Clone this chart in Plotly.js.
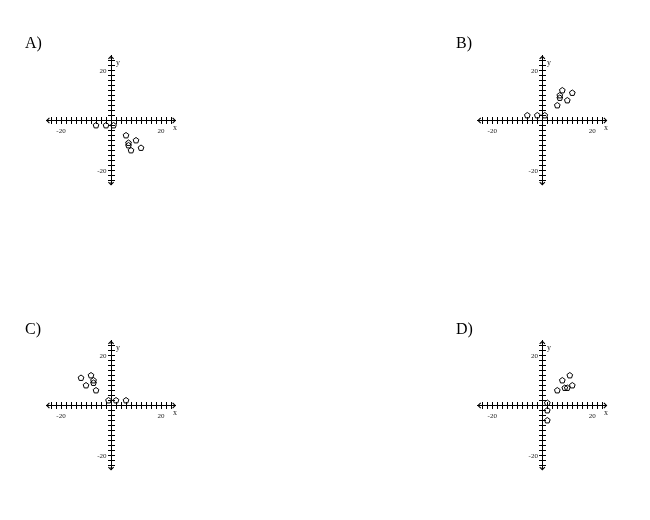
<!DOCTYPE html>
<html>
<head>
<meta charset="utf-8">
<script src="https://cdn.plot.ly/plotly-3.0.1.min.js"></script>
<style>
  body { margin: 0; background: #fff; }
  #chart { width: 650px; height: 520px; will-change: transform; }
</style>
</head>
<body>
<div id="chart"></div>
<script>
// panel labels
var panelNames = ['A)', 'B)', 'C)', 'D)'];

// point values
var aX = [-6, -2, 1, 6, 7, 7, 8, 10, 12];
var aY = [-2, -2, -2, -6, -9, -10, -12, -8, -11];

var bX = [-6, -2, 1, 6, 7, 7, 8, 10, 12];
var bY = [2, 2, 2, 6, 9, 10, 12, 8, 11];

var cX = [6, 2, -1, -6, -7, -7, -8, -10, -12];
var cY = [2, 2, 2, 6, 9, 10, 12, 8, 11];

var dX = [2, 2, 2, 6, 9, 10, 12, 8, 11];
var dY = [-6, -2, 1, 6, 7, 7, 8, 10, 12];

// ticks every 2, only +-20 labelled
var tickVals = [-24, -22, -20, -18, -16, -14, -12, -10, -8, -6, -4, -2, 0,
                2, 4, 6, 8, 10, 12, 14, 16, 18, 20, 22, 24];
var tickText = ['', '', '-20', '', '', '', '', '', '', '', '', '', '',
                '', '', '', '', '', '', '', '', '', '20', '', ''];

var xsAll = [aX, bX, cX, dX];
var ysAll = [aY, bY, cY, dY];

// layout of the four small graphs on the page
var xDomains = [[0.0708, 0.2708], [0.7343, 0.9343], [0.0708, 0.2708], [0.7343, 0.9343]];
var yDomains = [[0.6433, 0.8933], [0.6433, 0.8933], [0.0952, 0.3452], [0.0952, 0.3452]];
var labelPos = [[0.036, 0.918], [0.699, 0.918], [0.036, 0.368], [0.699, 0.368]];
var R = 26;

var serif = 'Liberation Serif, Times New Roman, serif';

var data = [];
var layout = {
    width: 650,
    height: 520,
    margin: { l: 0, r: 0, t: 0, b: 0 },
    paper_bgcolor: 'white',
    plot_bgcolor: 'rgba(0,0,0,0)',
    showlegend: false,
    annotations: [],
    font: { family: serif, color: 'black' }
};

for (var i = 0; i < 4; i++) {
    var n = i + 1;
    var o = i + 5;
    var xs = n === 1 ? '' : String(n);
    var midY = (yDomains[i][0] + yDomains[i][1]) / 2;
    var midX = (xDomains[i][0] + xDomains[i][1]) / 2;

    data.push({
        x: xsAll[i],
        y: ysAll[i],
        xaxis: 'x' + xs,
        yaxis: 'y' + xs,
        mode: 'markers',
        type: 'scatter',
        hoverinfo: 'x+y',
        marker: { symbol: 'pentagon-open', size: 6, color: 'black', line: { width: 1, color: 'black' } }
    });
    // empty trace so the overlay axes (ticks on the other side) get drawn
    data.push({ x: [], y: [], xaxis: 'x' + o, yaxis: 'y' + o, type: 'scatter', mode: 'markers', hoverinfo: 'skip' });

    var baseX = {
        domain: xDomains[i], range: [-R, R], anchor: 'free', position: midY,
        showgrid: false, zeroline: false, showline: true, linecolor: 'black', linewidth: 1,
        tickmode: 'array', tickvals: tickVals, ticktext: tickText,
        ticks: 'outside', ticklen: 3, tickwidth: 1, tickcolor: 'black',
        tickfont: { family: serif, size: 7, color: '#222' }, fixedrange: true
    };
    var baseY = {
        domain: yDomains[i], range: [-R, R], anchor: 'free', position: midX,
        showgrid: false, zeroline: false, showline: true, linecolor: 'black', linewidth: 1,
        tickmode: 'array', tickvals: tickVals, ticktext: tickText,
        ticks: 'outside', ticklen: 3, tickwidth: 1, tickcolor: 'black',
        tickfont: { family: serif, size: 7, color: '#222' }, fixedrange: true
    };
    var overX = {
        overlaying: 'x' + xs, range: [-R, R], anchor: 'free', position: midY,
        showgrid: false, zeroline: false, showline: false,
        tickmode: 'array', tickvals: tickVals, showticklabels: false,
        ticks: 'inside', ticklen: 3, tickwidth: 1, tickcolor: 'black', fixedrange: true
    };
    var overY = {
        overlaying: 'y' + xs, range: [-R, R], anchor: 'free', position: midX,
        showgrid: false, zeroline: false, showline: false,
        tickmode: 'array', tickvals: tickVals, showticklabels: false,
        ticks: 'inside', ticklen: 3, tickwidth: 1, tickcolor: 'black', fixedrange: true
    };
    layout['xaxis' + xs] = baseX;
    layout['yaxis' + xs] = baseY;
    layout['xaxis' + o] = overX;
    layout['yaxis' + o] = overY;

    var xr = 'x' + xs, yr = 'y' + xs;
    // arrow heads at the four ends
    var ends = [[R, 0, R - 2, 0], [-R, 0, -R + 2, 0], [0, R, 0, R - 2], [0, -R, 0, -R + 2]];
    ends.forEach(function (e) {
        layout.annotations.push({
            xref: xr, yref: yr, axref: xr, ayref: yr,
            x: e[0], y: e[1], ax: e[2], ay: e[3], text: '',
            showarrow: true, arrowhead: 4, arrowsize: 1, arrowwidth: 1, arrowcolor: 'black'
        });
    });
    // axis names
    layout.annotations.push({
        xref: xr, yref: yr, x: 25.6, y: -3, text: 'x', showarrow: false,
        font: { family: serif, size: 8, color: '#222' }
    });
    layout.annotations.push({
        xref: xr, yref: yr, x: 2.6, y: 23.2, text: 'y', showarrow: false,
        font: { family: serif, size: 8, color: '#222' }
    });
    // panel letter
    layout.annotations.push({
        xref: 'paper', yref: 'paper', x: labelPos[i][0], y: labelPos[i][1],
        xanchor: 'left', yanchor: 'middle', text: panelNames[i], showarrow: false,
        font: { family: serif, size: 16, color: 'black' }
    });
}

Plotly.newPlot('chart', data, layout, { displayModeBar: false, staticPlot: true });
</script>
</body>
</html>
